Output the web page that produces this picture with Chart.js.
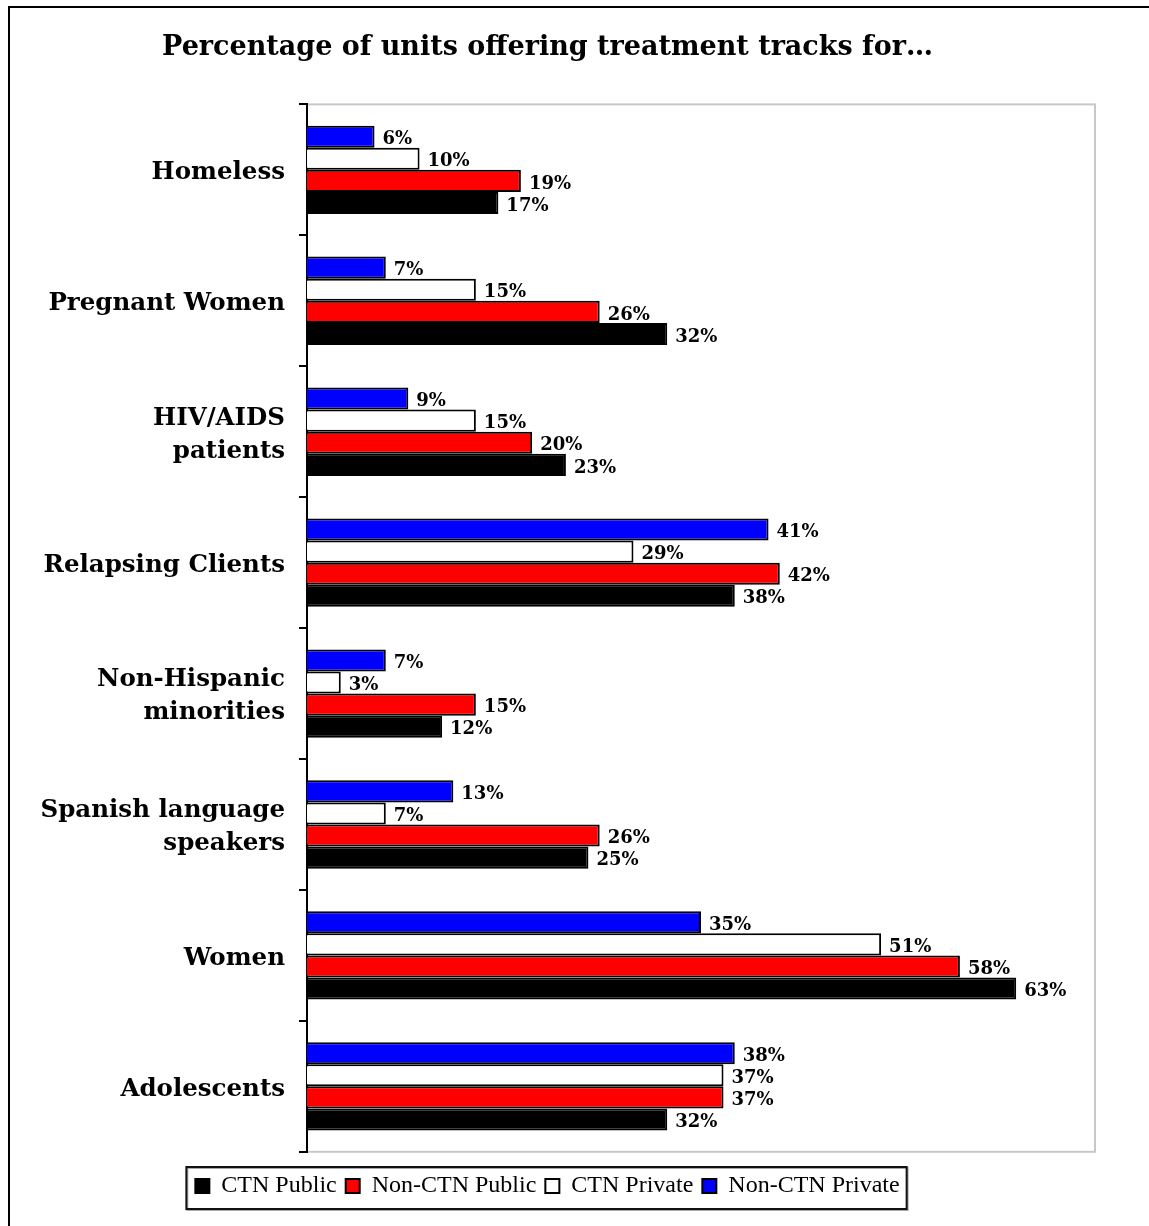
<!DOCTYPE html>
<html>
<head>
<meta charset="utf-8">
<title>Treatment tracks</title>
<script src="https://cdn.jsdelivr.net/npm/chart.js@4"></script>
<style>
  html, body { margin: 0; padding: 0; background: #fff; }
  #wrap { position: relative; width: 1149px; height: 1226px; }
</style>
</head>
<body>
<div id="wrap"><canvas id="tracksChart"></canvas></div>
<script>
const categories = [
    'Homeless',
    'Pregnant Women',
    ['HIV/AIDS', 'patients'],
    'Relapsing Clients',
    ['Non-Hispanic', 'minorities'],
    ['Spanish language', 'speakers'],
    'Women',
    'Adolescents'
];

// bars listed top to bottom inside each group
const nonCtnPrivate = [6, 7, 9, 41, 7, 13, 35, 38];
const ctnPrivate    = [10, 15, 15, 29, 3, 7, 51, 37];
const nonCtnPublic  = [19, 26, 20, 42, 15, 26, 58, 37];
const ctnPublic     = [17, 32, 23, 38, 12, 25, 63, 32];

const SERIF = '"DejaVu Serif", "Liberation Serif", serif';

// outer frame, grey plot box, legend border
const framePlugin = {
    id: 'frame',
    beforeDraw(chart) {
        const c = chart.ctx;
        c.save();
        c.strokeStyle = '#000';
        c.lineWidth = 2;
        c.beginPath();
        c.moveTo(9, chart.height);
        c.lineTo(9, 7);
        c.lineTo(chart.width, 7);
        c.stroke();

        const a = chart.chartArea;
        c.strokeStyle = '#c8c8c8';
        c.lineWidth = 2;
        c.strokeRect(a.left, a.top, a.right - a.left, a.bottom - a.top);
        c.restore();
    },
    afterDraw(chart) {
        const boxes = chart.legend.legendHitBoxes;
        if (!boxes || !boxes.length) return;
        let l = Infinity, r = -Infinity, t = Infinity, b = -Infinity;
        boxes.forEach(h => {
            l = Math.min(l, h.left); r = Math.max(r, h.left + h.width);
            t = Math.min(t, h.top); b = Math.max(b, h.top + h.height);
        });
        const c = chart.ctx;
        const x = l - 9, y = t - 7, w = r - l + 16, h = b - t + 18;
        c.save();
        c.strokeStyle = '#aaa';
        c.lineWidth = 2;
        c.strokeRect(x + 1, y + 1, w, h);
        c.strokeStyle = '#111';
        c.strokeRect(x, y, w, h);
        c.restore();
    }
};

// percentage printed after the end of each bar
const valueLabels = {
    id: 'valueLabels',
    afterDatasetsDraw(chart) {
        const c = chart.ctx;
        c.save();
        c.font = 'bold 18px ' + SERIF;
        c.fillStyle = '#000';
        c.textAlign = 'left';
        c.textBaseline = 'middle';
        chart.data.datasets.forEach((ds, i) => {
            chart.getDatasetMeta(i).data.forEach((bar, j) => {
                c.fillText(ds.data[j] + '%', bar.x + 8, bar.y + 3);
            });
        });
        c.restore();
    }
};

function series(label, values, color) {
    return {
        label: label,
        data: values,
        backgroundColor: color,
        borderColor: '#000',
        borderWidth: 2,
        borderSkipped: 'left',
        barPercentage: 1,
        categoryPercentage: 0.675
    };
}

new Chart(document.getElementById('tracksChart'), {
    type: 'bar',
    data: {
        labels: categories,
        datasets: [
            series('Non-CTN Private', nonCtnPrivate, '#0000ff'),
            series('CTN Private', ctnPrivate, '#ffffff'),
            series('Non-CTN Public', nonCtnPublic, '#ff0000'),
            series('CTN Public', ctnPublic, '#000000')
        ]
    },
    options: {
        indexAxis: 'y',
        responsive: true,
        maintainAspectRatio: false,
        animation: false,
        layout: { padding: { left: 0, right: 54, top: 0, bottom: 18 } },
        scales: {
            x: {
                display: false,
                min: 0,
                max: 70
            },
            y: {
                afterFit: s => { s.width = 307; },
                border: { display: true, color: '#000', width: 2 },
                grid: {
                    offset: true,
                    drawOnChartArea: false,
                    drawTicks: true,
                    tickLength: 8,
                    color: '#000',
                    lineWidth: 2
                },
                ticks: {
                    color: '#000',
                    padding: 14,
                    labelOffset: 3,
                    font: { family: SERIF, size: 24.5, weight: 'bold', lineHeight: 1.35 }
                }
            }
        },
        plugins: {
            title: {
                display: true,
                text: 'Percentage of units offering treatment tracks for…',
                color: '#000',
                font: { family: SERIF, size: 27, weight: 'bold', lineHeight: 1.2 },
                padding: { top: 32, bottom: 40 }
            },
            legend: {
                position: 'bottom',
                reverse: true,
                title: {
                    display: true,
                    text: '',
                    font: { size: 1 },
                    padding: { top: 12, bottom: 0 }
                },
                labels: {
                    color: '#000',
                    boxWidth: 14,
                    boxHeight: 14,
                    padding: 9,
                    font: { family: '"Liberation Serif", serif', size: 24 }
                }
            },
            tooltip: { enabled: false }
        }
    },
    plugins: [framePlugin, valueLabels]
});
</script>
</body>
</html>
